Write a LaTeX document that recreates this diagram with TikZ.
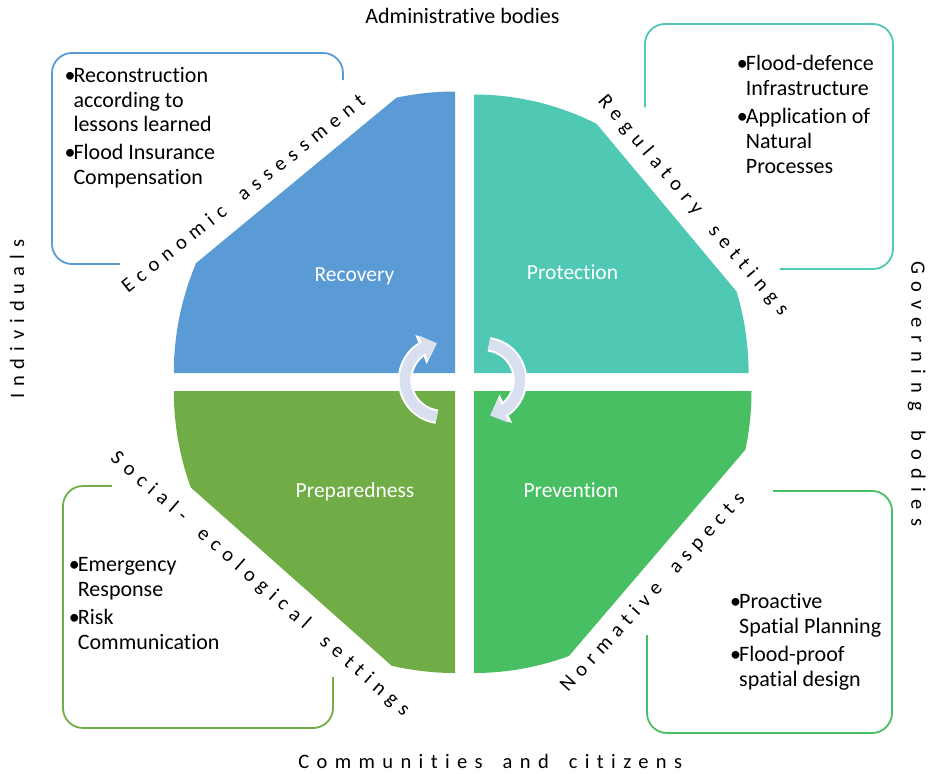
\documentclass[tikz,border=0pt]{standalone}
\usepackage{fontspec}
\setmainfont{Carlito}[Ligatures=NoCommon]
\newfontfamily\spacedfont{Carlito}[LetterSpace=34,Ligatures=NoCommon]
\usetikzlibrary{arrows.meta,bending}
\definecolor{cblue}{HTML}{5B9BD5}
\definecolor{cteal}{HTML}{4FC8B4}
\definecolor{cgreenA}{HTML}{70AD47}
\definecolor{cgreenB}{HTML}{47BF62}
\definecolor{lav}{HTML}{D8E0F0}
\newcommand\bl{\makebox[9pt][l]{\textbullet}}
\newcommand\ind{\hspace*{9pt}}
\newcommand\ws{\hspace{20pt}}
\newcommand\lsp[1]{\addfontfeatures{LetterSpace=#1}}
\tikzset{
  boxline/.style={line width=1.8pt, rounded corners=20pt},
  quadlabel/.style={text=white, font=\fontsize{21.5}{24}\selectfont, anchor=base, inner sep=0pt},
  boxtext/.style={anchor=base west, inner sep=0pt, font=\fontsize{22}{24.7}\selectfont, text=black},
  sidelabel/.style={font=\fontsize{20.5}{24}\spacedfont, inner sep=0pt, text=black},
  arrowout/.style={white, line width=14.5pt, -{Triangle[width=30pt,length=17pt]}},
  arrowin/.style={lav, line width=10.5pt, -{Triangle[width=25pt,length=14pt]}},
}
\begin{document}
\begin{tikzpicture}[x=1pt,y=1pt]
\useasboundingbox (0,0) rectangle (935,-774);
% quadrants
\fill[cblue] (455,-373) -- (455,-91.5)
  arc[start angle=90,end angle=102,x radius=281.2,y radius=281.5]
  -- ([shift={(455,-373)}]157:281.2 and 281.5)
  arc[start angle=157,end angle=180,x radius=281.2,y radius=281.5] -- cycle;
\fill[cteal] (474,-373) -- (474,-94.5)
  arc[start angle=90,end angle=63.5,x radius=274.6,y radius=278.5]
  -- ([shift={(474,-373)}]17:274.6 and 278.5)
  arc[start angle=17,end angle=0,x radius=274.6,y radius=278.5] -- cycle;
\fill[cgreenA] (455,-391) -- (173.8,-391)
  arc[start angle=180,end angle=200,x radius=281.2,y radius=282]
  -- ([shift={(455,-391)}]257:281.2 and 282)
  arc[start angle=257,end angle=270,x radius=281.2,y radius=282] -- cycle;
\fill[cgreenB] (474,-391) -- (474,-673)
  arc[start angle=270,end angle=290,x radius=277.5,y radius=282]
  -- ([shift={(474,-391)}]348:277.5 and 282)
  arc[start angle=348,end angle=360,x radius=277.5,y radius=282] -- cycle;
% quadrant labels
\node[quadlabel] (recovery) at (354.5,-281) {Recovery};
\node[quadlabel] (protection) at (572.5,-279) {Protection};
\node[quadlabel] (preparedness) at (355,-497) {Preparedness};
\node[quadlabel] (prevention) at (571,-497) {Prevention};
% cycle arrows
\draw[arrowout] ([shift={(442,-380)}]262:37) arc[start angle=262,end angle=98,radius=37];
\draw[arrowin] ([shift={(442,-380)}]262:37) arc[start angle=262,end angle=98,radius=37];
\draw[arrowout] ([shift={(484,-380)}]82:36) arc[start angle=82,end angle=-80,radius=36];
\draw[arrowin] ([shift={(484,-380)}]82:36) arc[start angle=82,end angle=-80,radius=36];
% boxes
\draw[boxline, cblue] (120,-264) -- (52,-264) -- (52,-53) -- (343,-53) -- (343,-80);
\draw[boxline, cteal] (645,-107) -- (645,-24) -- (893,-24) -- (893,-269) -- (780,-269);
\draw[boxline, cgreenA] (112,-486) -- (63,-486) -- (63,-728) -- (333,-728) -- (333,-677);
\draw[boxline, cgreenB] (773,-491) -- (892,-491) -- (892,-733) -- (647,-733) -- (647,-635);
% box texts
\node[boxtext] (recoverytext) at (64.3,-82.3) {\begin{tabular}[t]{@{}l@{}}
\bl Reconstruction\\ \ind according to\\ \ind lessons learned\\[3.5pt]
\bl Flood Insurance\\ \ind Compensation\end{tabular}};
\node[boxtext] (protectiontext) at (736.7,-70.7) {\begin{tabular}[t]{@{}l@{}}
\bl Flood-defence\\ \ind Infrastructure\\[3.5pt]
\bl Application of\\ \ind Natural\\ \ind Processes\end{tabular}};
\node[boxtext] (preparednesstext) at (68.7,-571.7) {\begin{tabular}[t]{@{}l@{}}
\bl Emergency\\ \ind Response\\[3.5pt]
\bl Risk\\ \ind Communication\end{tabular}};
\node[boxtext] (preventiontext) at (730,-608.3) {\begin{tabular}[t]{@{}l@{}}
\bl Proactive\\ \ind Spatial Planning\\[4pt]
\bl Flood-proof\\ \ind spatial design\end{tabular}};
% diagonal labels
\node[sidelabel, rotate=38.5] (econ) at (243,-193) {\lsp{33}Economic\ws assessment};
\node[sidelabel, rotate=-49.6] (regul) at (693,-205.5) {\lsp{33}Regulatory\ws settings};
\node[sidelabel, rotate=-41.2] (social) at (260,-584.5) {\lsp{33}Social-\ws ecological\ws settings};
\node[sidelabel, rotate=47.4] (norm) at (653,-592.5) {\lsp{32}Normative\ws aspects};
% outer labels
\node[anchor=base, inner sep=0pt, font=\fontsize{22}{24}\selectfont] (admin) at (462.5,-23.3) {Administrative bodies};
\node[sidelabel, anchor=base] (comm) at (490.3,-768.3) {\lsp{36}Communities\ws and\ws citizens};
\node[sidelabel, rotate=90] (indiv) at (17,-319.4) {\lsp{34}Individuals};
\node[sidelabel, rotate=-90] (gov) at (916.7,-393.6) {\lsp{39}Governing\ws bodies};
\end{tikzpicture}
\end{document}
